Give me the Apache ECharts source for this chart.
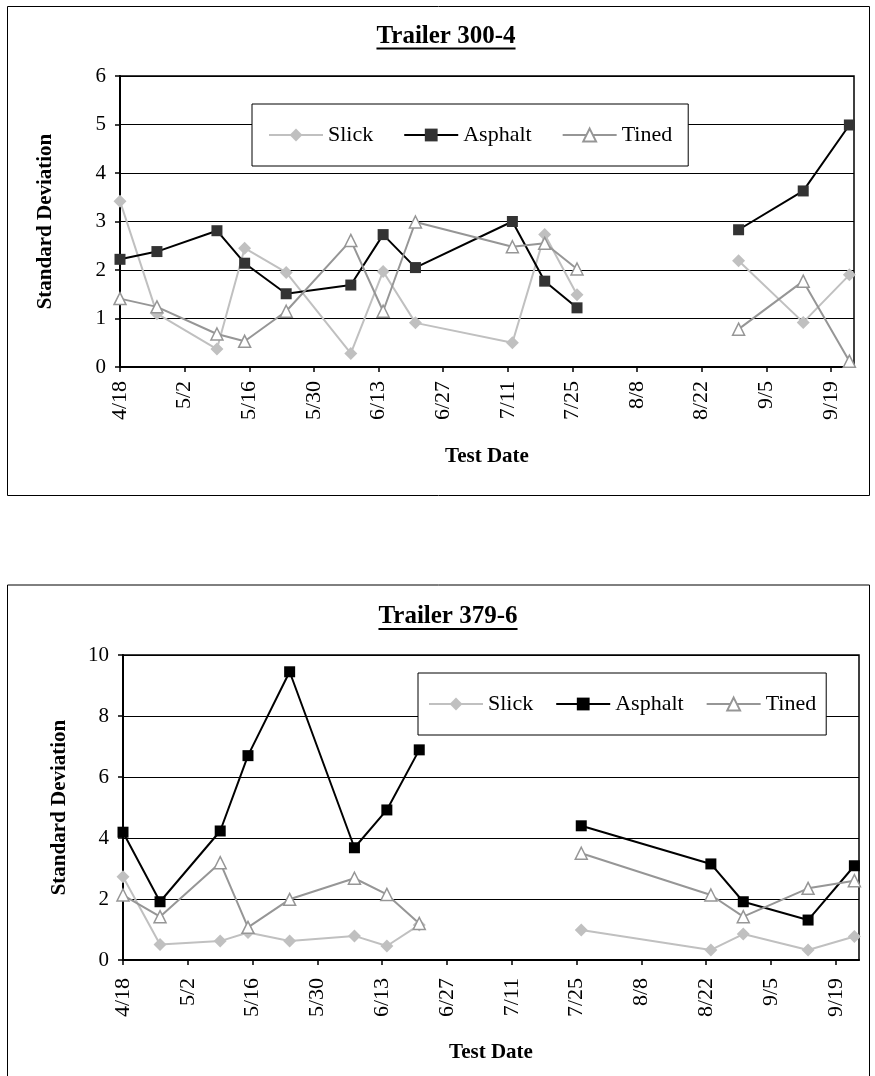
<!DOCTYPE html>
<html><head><meta charset="utf-8">
<script src="https://cdn.jsdelivr.net/npm/echarts@6/dist/echarts.min.js"></script>
<style>
html,body{margin:0;padding:0;background:#fff;width:875px;height:1076px;overflow:hidden}
#c1{position:absolute;left:0;top:0;width:875px;height:540px}
#c2{position:absolute;left:0;top:540px;width:875px;height:536px}
</style>
</head><body><div id="c1"></div><div id="c2"></div>
<script>
// ---- data ----
const seriesNames = ['Slick', 'Asphalt', 'Tined'];
const xTickLabels = ['4/18','5/2','5/16','5/30','6/13','6/27','7/11','7/25','8/8','8/22','9/5','9/19'];
const xAxisEnd = '9/24';
const xAxisName = 'Test Date';
const yAxisName = 'Standard Deviation';

const topTitle = 'Trailer 300-4';
const topDates   = ['4/18','4/26','5/9','5/15','5/24','6/7','6/14','6/21','7/12','7/19','7/26','8/30','9/13','9/23'];
const topSlick   = [3.42, 1.10, 0.37, 2.45, 1.95, 0.28, 1.97, 0.91, 0.50, 2.73, 1.49, 2.19, 0.92, 1.90];
const topAsphalt = [2.22, 2.38, 2.81, 2.14, 1.51, 1.69, 2.73, 2.05, 3.00, 1.77, 1.22, 2.83, 3.63, 4.99];
const topTined   = [1.41, 1.24, 0.68, 0.53, 1.15, 2.61, 1.15, 2.99, 2.48, 2.55, 2.02, 0.78, 1.77, 0.12];
const topGapAfter = '7/26';
const topYTicks = [0, 1, 2, 3, 4, 5, 6];

const botTitle = 'Trailer 379-6';
const botDates   = ['4/18','4/26','5/9','5/15','5/24','6/7','6/14','6/21','7/26','8/23','8/30','9/13','9/23'];
const botSlick   = [2.73, 0.51, 0.62, 0.90, 0.62, 0.79, 0.46, 1.15, 0.98, 0.33, 0.85, 0.33, 0.77];
const botAsphalt = [4.19, 1.91, 4.23, 6.70, 9.45, 3.68, 4.92, 6.89, 4.40, 3.15, 1.91, 1.31, 3.09];
const botTined   = [2.13, 1.42, 3.19, 1.07, 1.99, 2.68, 2.15, 1.20, 3.50, 2.13, 1.42, 2.35, 2.60];
const botGapAfter = '6/21';
const botYTicks = [0, 2, 4, 6, 8, 10];

// ---- helpers ----
const FONT = '"Liberation Serif","Times New Roman",serif';
const DAY = 86400000;
function dayOf(s) {
  const [m, d] = s.split('/').map(Number);
  const base = xTickLabels[0].split('/').map(Number);
  return Math.round((Date.UTC(2001, m - 1, d) - Date.UTC(2001, base[0] - 1, base[1])) / DAY);
}
const xStep = dayOf(xTickLabels[1]);
function buildData(dates, vals, gapAfter) {
  const out = [];
  dates.forEach((d, i) => {
    out.push([dayOf(d), vals[i]]);
    if (d === gapAfter && i + 1 < dates.length) {
      out.push([(dayOf(d) + dayOf(dates[i + 1])) / 2, '-']);
    }
  });
  return out;
}
function textWidth(txt, font) {
  const c = document.createElement('canvas').getContext('2d');
  c.font = font;
  return c.measureText(txt).width;
}

function makeChart(el, cfg) {
  const chart = echarts.init(el, null, { renderer: 'canvas' });
  const yt = cfg.yTicks;
  const titleFont = 'bold 25px ' + FONT;
  const tw = textWidth(cfg.title, titleFont);
  const nameStyle = { fontFamily: FONT, fontSize: 21, color: '#000', fontWeight: 'bold' };
  chart.setOption({
    animation: false,
    backgroundColor: '#fff',
    graphic: [
      { type: 'rect', shape: cfg.box, style: { fill: 'none', stroke: '#000', lineWidth: 1 }, silent: true, z: 0 },
      { type: 'text', x: cfg.titleX, y: cfg.titleY, style: { text: cfg.title, font: titleFont, fill: '#000', textAlign: 'center', textVerticalAlign: 'middle' }, z: 10 },
      { type: 'line', shape: { x1: cfg.titleX - tw / 2, y1: cfg.underlineY, x2: cfg.titleX + tw / 2, y2: cfg.underlineY }, style: { stroke: '#000', lineWidth: 2 }, z: 10 }
    ],
    grid: Object.assign({ show: true, borderColor: '#000', borderWidth: 1.5, backgroundColor: 'transparent' }, cfg.grid),
    legend: Object.assign({
      orient: 'horizontal', data: seriesNames, selectedMode: false,
      itemWidth: 54, itemHeight: 16,
      backgroundColor: '#fff', borderColor: '#000', borderWidth: 1,
      textStyle: { fontFamily: FONT, fontSize: 22, color: '#000' }
    }, cfg.legend),
    xAxis: {
      type: 'value', min: 0, max: dayOf(xAxisEnd), interval: xStep,
      axisLine: { show: true, lineStyle: { color: '#000', width: 2 } },
      axisTick: { show: true, length: 5, lineStyle: { color: '#000', width: 1.5 } },
      splitLine: { show: false },
      axisLabel: {
        rotate: 90, margin: cfg.xLabelMargin, showMaxLabel: false,
        fontFamily: FONT, fontSize: 22, color: '#000',
        formatter: v => (v % xStep === 0 && xTickLabels[v / xStep]) ? xTickLabels[v / xStep] : ''
      },
      name: xAxisName, nameLocation: 'middle', nameGap: cfg.xNameGap, nameTextStyle: nameStyle
    },
    yAxis: {
      type: 'value', min: yt[0], max: yt[yt.length - 1], interval: yt[1] - yt[0],
      axisLine: { show: true, lineStyle: { color: '#000', width: 2 } },
      axisTick: { show: true, length: 5, lineStyle: { color: '#000', width: 1.5 } },
      splitLine: { show: true, lineStyle: { color: '#000', width: 1 } },
      axisLabel: { margin: 14, fontFamily: FONT, fontSize: 21, color: '#000' },
      name: yAxisName, nameLocation: 'middle', nameGap: cfg.yNameGap, nameTextStyle: nameStyle
    },
    series: [
      { name: seriesNames[0], type: 'line', data: buildData(cfg.dates, cfg.slick, cfg.gapAfter),
        symbol: 'diamond', symbolSize: 13, showAllSymbol: true,
        lineStyle: { color: '#C0C0C0', width: 2 }, itemStyle: { color: '#C0C0C0', borderColor: '#C0C0C0', borderWidth: 0 } },
      { name: seriesNames[1], type: 'line', data: buildData(cfg.dates, cfg.asphalt, cfg.gapAfter),
        symbol: 'rect', symbolSize: 11, showAllSymbol: true,
        lineStyle: { color: '#000', width: 2 }, itemStyle: { color: cfg.asphaltFill, borderColor: cfg.asphaltFill, borderWidth: 0 } },
      { name: seriesNames[2], type: 'line', data: buildData(cfg.dates, cfg.tined, cfg.gapAfter),
        symbol: 'triangle', symbolSize: 12, showAllSymbol: true,
        lineStyle: { color: '#969696', width: 2 }, itemStyle: { color: '#fff', borderColor: '#969696', borderWidth: 1.5 } }
    ]
  });
  return chart;
}

makeChart(document.getElementById('c1'), {
  title: topTitle, titleX: 446, titleY: 37, underlineY: 48.5,
  box: { x: 7.5, y: 6.5, width: 862, height: 489 },
  grid: { left: 120, top: 76, width: 734, height: 291 },
  legend: { left: 252, top: 104, padding: [20, 16, 20, 16], itemGap: 30 },
  xLabelMargin: 14, xNameGap: 79, yNameGap: 64,
  dates: topDates, slick: topSlick, asphalt: topAsphalt, tined: topTined, gapAfter: topGapAfter,
  yTicks: topYTicks, asphaltFill: '#333333'
});
makeChart(document.getElementById('c2'), {
  title: botTitle, titleX: 448, titleY: 77, underlineY: 89,
  box: { x: 7.5, y: 45, width: 862, height: 700 },
  grid: { left: 123, top: 115, width: 736, height: 305 },
  legend: { left: 418, top: 133, padding: [20, 10, 20, 10], itemGap: 22 },
  xLabelMargin: 18, xNameGap: 82, yNameGap: 53,
  dates: botDates, slick: botSlick, asphalt: botAsphalt, tined: botTined, gapAfter: botGapAfter,
  yTicks: botYTicks, asphaltFill: '#000000'
});
</script>
</body></html>
